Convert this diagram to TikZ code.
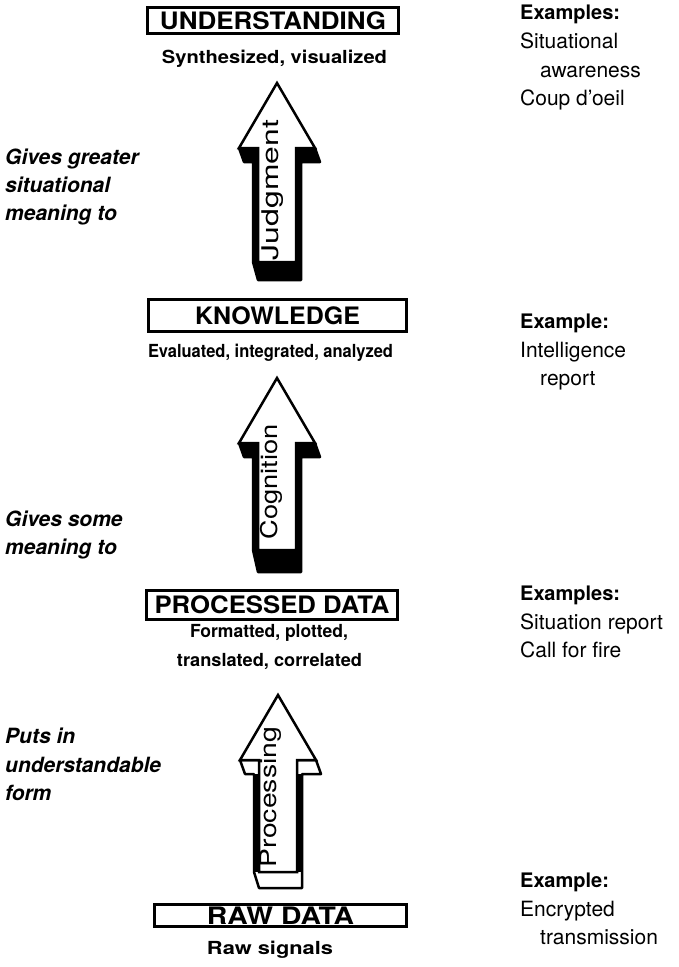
\documentclass[tikz,border=0pt]{standalone}
\usepackage{fontspec}
\setmainfont{TeX Gyre Heros}
\newcommand{\fitw}[2]{\resizebox{#1pt}{\height}{#2}}
\newcommand{\blockarrow}[6]{%
  \filldraw[back, fill=#6] ({#1-38},#3) -- ({#1-33},{#3+14}) -- ({#1-24},{#3+14}) -- ({#1-24},#4) -- ({#1-19},#5) -- ({#1+24},#5) -- ({#1+24},{#3+14}) -- ({#1+43},{#3+14}) -- ({#1+38},#3) -- cycle;
  \fill ({#1-24},{#3+14}) rectangle ({#1-19},#4);
  \fill ({#1+19},{#3+14}) rectangle ({#1+24},#4);
  \filldraw[face] (#1,#2) -- ({#1+38},#3) -- ({#1+19},#3) -- ({#1+19},#4) -- ({#1-19},#4) -- ({#1-19},#3) -- ({#1-38},#3) -- cycle;
}
\tikzset{
  titlebox/.style={draw, line width=3pt, inner sep=0pt, font=\fontsize{24}{29}\selectfont\bfseries},
  sub/.style={font=\fontsize{18}{22}\selectfont\bfseries, anchor=base, inner sep=0pt},
  note/.style={font=\fontsize{21}{25}\selectfont\bfseries\itshape, anchor=base west, inner sep=0pt},
  exhead/.style={font=\fontsize{20}{24}\selectfont\bfseries, anchor=base west, inner sep=0pt},
  exline/.style={font=\fontsize{21}{25}\selectfont, anchor=base west, inner sep=0pt},
  alabel/.style={rotate=90, inner sep=0pt, font=\fontsize{23}{27}\selectfont},
  face/.style={fill=white, draw=black, line width=2.5pt, line join=miter},
  back/.style={draw=black, line width=2.5pt, line join=round},
}
\begin{document}
\begin{tikzpicture}[x=1pt, y=-1pt]
\useasboundingbox (0,0) rectangle (678,967);
% arrows
\blockarrow{277}{83}{148}{262}{280}{black}
\node[alabel] (lj) at (273,190) {\fitw{140}{Judgment}};
\blockarrow{277}{378}{443}{550}{572}{black}
\node[alabel] (lc) at (271,482) {\fitw{115}{Cognition}};
\blockarrow{278}{695}{760}{872}{888}{white}
\node[alabel] (lp) at (271,797) {\fitw{140}{Processing}};
% title boxes
\node[titlebox, minimum width=251pt, minimum height=26pt] (und) at (273,20.5) {\fitw{226}{UNDERSTANDING}};
\node[titlebox, minimum width=258pt, minimum height=32pt] (kno) at (277.5,315.5) {\fitw{165}{KNOWLEDGE}};
\node[titlebox, minimum width=251pt, minimum height=29pt] (pro) at (272,605) {\fitw{235}{PROCESSED DATA}};
\node[titlebox, minimum width=252pt, minimum height=22pt] (raw) at (280.5,915.5) {\fitw{147}{RAW DATA}};
% subtitles
\node[sub] (s1) at (274.5,63) {\fitw{225}{Synthesized, visualized}};
\node[sub] (s2) at (270.5,357) {\fitw{245}{Evaluated, integrated, analyzed}};
\node[sub] (s3) at (269,637) {\fitw{158}{Formatted, plotted,}};
\node[sub] (s4) at (269.5,666) {\fitw{185}{translated, correlated}};
\node[sub] (s5) at (270,954) {\fitw{126}{Raw signals}};
% left notes
\node[note] (n1a) at (5,164) {Gives greater};
\node[note] (n1b) at (5,192) {situational};
\node[note] (n1c) at (5,220) {meaning to};
\node[note] (n2a) at (5,526) {Gives some};
\node[note] (n2b) at (5,554) {meaning to};
\node[note] (n3a) at (5,743) {Puts in};
\node[note] (n3b) at (5,772) {understandable};
\node[note] (n3c) at (5,800) {form};
% right examples
\node[exhead] (e1) at (520,19) {Examples:};
\node[exline] (e1a) at (520,48) {Situational};
\node[exline] (e1b) at (540,77) {awareness};
\node[exline] (e1c) at (520,105) {Coup d'oeil};
\node[exhead] (e2) at (520,328) {Example:};
\node[exline] (e2a) at (520,357) {Intelligence};
\node[exline] (e2b) at (540,385) {report};
\node[exhead] (e3) at (520,600) {Examples:};
\node[exline] (e3a) at (520,629) {Situation report};
\node[exline] (e3b) at (520,657) {Call for fire};
\node[exhead] (e4) at (520,887) {Example:};
\node[exline] (e4a) at (520,916) {Encrypted};
\node[exline] (e4b) at (540,944) {transmission};
\end{tikzpicture}
\end{document}
